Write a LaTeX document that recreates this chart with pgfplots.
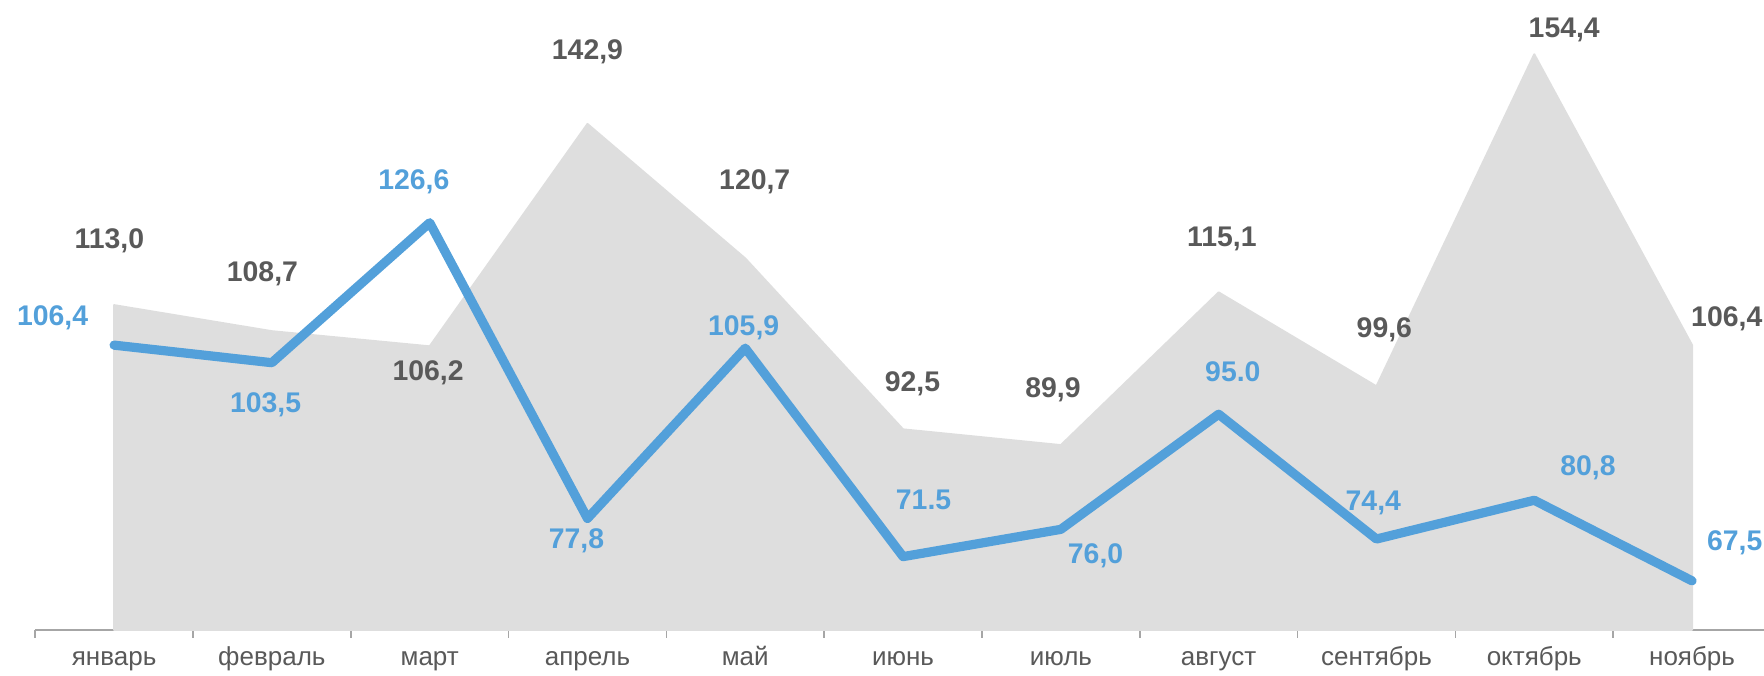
\documentclass[border=0pt]{standalone}
\usepackage{pgfplots}
\pgfplotsset{compat=1.18}
\usepackage{fontspec}
\setmainfont{Liberation Sans}

\definecolor{areagray}{HTML}{DEDEDE}
\definecolor{lineblue}{HTML}{53A0DA}
\definecolor{labgray}{HTML}{595959}
\definecolor{axgray}{HTML}{A6A6A6}

\tikzset{dlab/.style={font=\fontsize{14.2}{16}\selectfont\bfseries, anchor=center}}

\begin{document}
\begin{tikzpicture}
\begin{axis}[
	scale only axis,
	width=867.9pt, height=304.8pt,
	xmin=-0.5, xmax=10.5,
	ymin=59.4, ymax=160,
	clip=false,
	axis x line*=bottom,
	axis y line=none,
	x axis line style={draw=axgray, line width=0.8pt},
	xtick={-0.5,0.5,...,10.5},
	x tick label as interval,
	xticklabels={январь,февраль,март,апрель,май,июнь,июль,август,сентябрь,октябрь,ноябрь},
	xtick align=outside,
	major tick length=4pt,
	x tick style={draw=axgray, line width=0.8pt},
	xticklabel style={font=\fontsize{13}{15}\selectfont, text=labgray, anchor=base, yshift=-13.8pt},
]
% gray area series
\addplot[fill=areagray, draw=areagray, line width=1pt, line join=round]
	coordinates {(0,113.0) (1,108.7) (2,106.2) (3,142.9) (4,120.7) (5,92.5)
		(6,89.9) (7,115.1) (8,99.6) (9,154.4) (10,106.4)} \closedcycle;
% blue line series
\addplot[lineblue, line width=4.6pt, line join=round, line cap=round, mark=none]
	coordinates {(0,106.4) (1,103.5) (2,126.6) (3,77.8) (4,105.9) (5,71.5)
		(6,76.0) (7,95.0) (8,74.4) (9,80.8) (10,67.5)};

% data labels, gray series
\node[dlab, text=labgray] at (axis cs:-0.03,123.6) {113,0};
\node[dlab, text=labgray] at (axis cs:0.94,118.1) {108,7};
\node[dlab, text=labgray] at (axis cs:1.99,101.8) {106,2};
\node[dlab, text=labgray] at (axis cs:3.00,154.8) {142,9};
\node[dlab, text=labgray] at (axis cs:4.06,133.3) {120,7};
\node[dlab, text=labgray] at (axis cs:5.06,100.0) {92,5};
\node[dlab, text=labgray] at (axis cs:5.95,99.0) {89,9};
\node[dlab, text=labgray] at (axis cs:7.02,124.0) {115,1};
\node[dlab, text=labgray] at (axis cs:8.05,108.9) {99,6};
\node[dlab, text=labgray] at (axis cs:9.19,158.4) {154,4};
\node[dlab, text=labgray] at (axis cs:10.22,110.7) {106,4};

% data labels, blue series
\node[dlab, text=lineblue] at (axis cs:-0.39,110.9) {106,4};
\node[dlab, text=lineblue] at (axis cs:0.96,96.5) {103,5};
\node[dlab, text=lineblue] at (axis cs:1.90,133.3) {126,6};
\node[dlab, text=lineblue] at (axis cs:2.93,74.1) {77,8};
\node[dlab, text=lineblue] at (axis cs:3.99,109.2) {105,9};
\node[dlab, text=lineblue] at (axis cs:5.13,80.9) {71.5};
\node[dlab, text=lineblue] at (axis cs:6.22,71.6) {76,0};
\node[dlab, text=lineblue] at (axis cs:7.09,102.0) {95.0};
\node[dlab, text=lineblue] at (axis cs:7.98,80.4) {74,4};
\node[dlab, text=lineblue] at (axis cs:9.34,86.1) {80,8};
\node[dlab, text=lineblue] at (axis cs:10.27,73.8) {67,5};

\coordinate (bl) at (axis cs:-0.723,51.81);
\coordinate (tr) at (axis cs:10.456,163.36);
\end{axis}
\pgfresetboundingbox
\useasboundingbox (bl) rectangle (tr);
\end{tikzpicture}
\end{document}
